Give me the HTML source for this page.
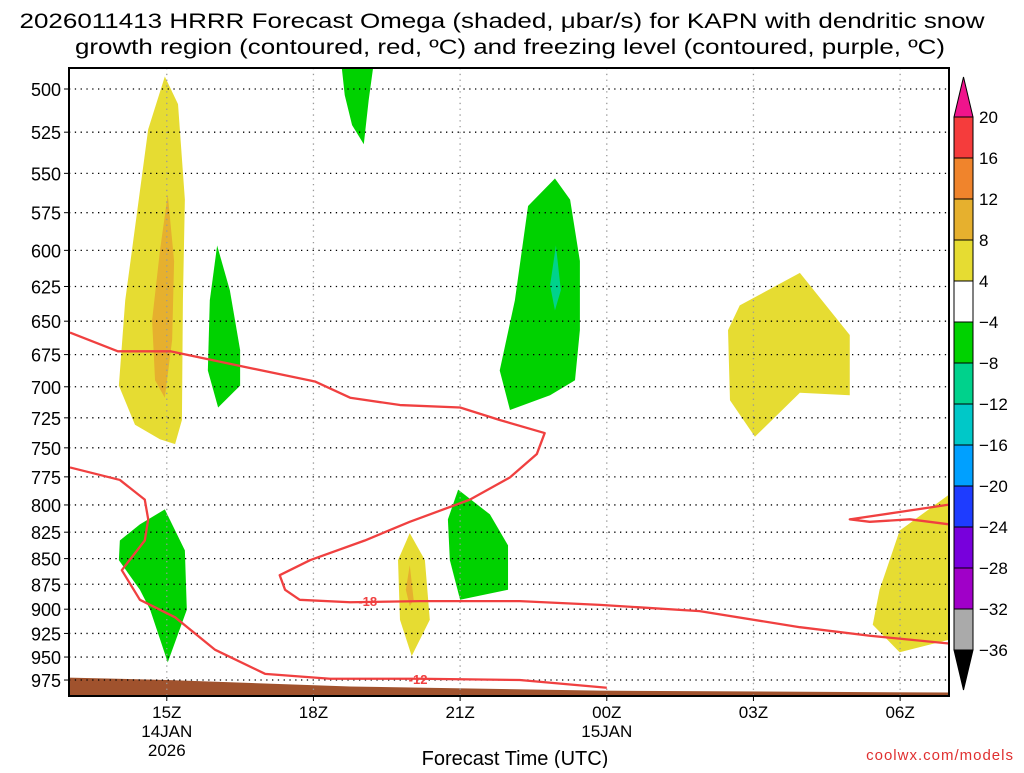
<!DOCTYPE html>
<html><head><meta charset="utf-8"><style>
body{margin:0;background:#fff;}
svg text{font-family:"Liberation Sans",sans-serif;}
</style></head><body>
<svg id="c" width="1024" height="768" xmlns="http://www.w3.org/2000/svg">
<text x="502" y="28" text-anchor="middle" font-size="21" textLength="965" lengthAdjust="spacingAndGlyphs">2026011413 HRRR Forecast Omega (shaded, μbar/s) for KAPN with dendritic snow</text>
<text x="510" y="54" text-anchor="middle" font-size="21" textLength="870" lengthAdjust="spacingAndGlyphs">growth region (contoured, red, ºC) and freezing level (contoured, purple, ºC)</text>
<g id="plot"></g>
<text x="515" y="765" text-anchor="middle" font-size="20">Forecast Time (UTC)</text>
<text x="1014" y="760" text-anchor="end" font-size="15" fill="#e03030" letter-spacing="1">coolwx.com/models</text>
</svg>
<script>
const levels=[500,525,550,575,600,625,650,675,700,725,750,775,800,825,850,875,900,925,950,975];
const xTickHours=[2,5,8,11,14,17];
const xTickLabels=[["15Z","14JAN","2026"],["18Z"],["21Z"],["00Z","15JAN"],["03Z"],["06Z"]];
const cbLevels=[20,16,12,8,4,-4,-8,-12,-16,-20,-24,-28,-32,-36];
const cbColors=["#f53c3c","#f0842c","#e6b02e","#e6dc32","#ffffff","#00d200","#00d28c","#00c8c8","#00a0ff","#1e3cff","#7800dc","#a000c8","#aaaaaa"];
const yellow1=[[1.96,493],[2.23,508.6],[2.37,566.6],[2.33,634.9],[2.31,726.8],[2.17,746.9],[1.86,742.8],[1.35,730.7],[1.02,699.1],[1.15,634.9],[1.62,523.3]];
const orange1=[[2.02,563.4],[2.15,607.3],[2.11,663.9],[1.96,708.7],[1.76,694.9],[1.70,649.3],[1.86,600.3]];
const greenA=[[3.03,596.7],[3.29,627.7],[3.5,671.5],[3.5,699.1],[3.05,716.6],[2.84,687.2],[2.88,634.9]];
const greenB=[[5.58,488.2],[6.22,488.2],[6.13,506.3],[6.03,532.2],[5.79,520.8],[5.64,503.5]];
const greenC=[[9.94,553.2],[10.25,566.6],[10.45,607.3],[10.45,656.6],[10.35,694.9],[9.84,706.7],[9.02,718.6],[8.81,687.2],[9.12,634.9],[9.39,570.7]];
const tealC=[[9.96,596.7],[10.06,627.7],[9.94,642.1],[9.84,624.2]];
const yellowD=[[14.95,615.5],[15.97,660.2],[15.97,706.7],[14.95,704.7],[14.03,740.7],[13.52,710.7],[13.48,656.6],[13.72,638.5]];
const greenE=[[1.96,804],[2.37,842.1],[2.41,900.6],[2.02,955.7],[1.66,900.6],[1.45,880.5],[1.02,851.5],[1.04,832.8],[1.45,817.7]];
const yellowF=[[6.97,825.9],[7.28,851.5],[7.38,910.8],[7.01,948.9],[6.77,910.8],[6.73,851.5]];
const orangeF=[[6.97,856.3],[7.05,890.5],[6.97,896.9],[6.89,880.5]];
const greenG=[[7.96,786.3],[8.61,808.6],[8.98,837.4],[8.98,880.5],[8.0,890.5],[7.79,851.5],[7.75,813.1]];
const yellowH=[[18,790.7],[18,931.6],[16.99,944.9],[16.44,915.9],[16.58,880.5],[16.99,823.6]];
const contour18=[[0.02,658.4],[1.0,672.5],[2.07,672.5],[3.7,685.3],[5.03,695.8],[5.75,708.7],[6.77,714.6],[8.0,716.6],[8.81,726.8],[9.73,737.6],[9.57,755.2],[9.02,775.5],[8.2,795.2],[6.97,815.4],[6.05,832.8],[4.93,851.5],[4.31,866.1],[4.42,880.5],[4.72,890.5],[5.75,893],[7.18,891.8],[9.22,891.8],[10.86,895.6],[12.9,902],[14.95,918.5],[16.38,927.4],[18,935.6]];
const contour12=[[0.02,766.8],[1.04,777.7],[1.55,795.2],[1.62,813.1],[1.55,832.8],[1.08,861.2],[1.45,890.5],[2.17,908.3],[2.99,942.3],[4.01,968.2],[5.34,973.6],[7.18,973.6],[9.22,975],[11.0,983.5]];
const contourR=[[18,799.7],[16.99,806.4],[15.97,813.1],[16.38,815.4],[17.2,813.1],[18,817.7]];
const terrain=[[0,972.3],[2,975],[5.75,982.1],[10.86,986.8],[18,988.9]];
const shaded=[[yellow1,"#e6dc32","yellow-area-15z"],[orange1,"#e6b02e","orange-area-15z"],[greenA,"#00d200","green-area-16z"],[greenB,"#00d200","green-area-19z"],[greenC,"#00d200","green-area-23z"],[tealC,"#00d28c","teal-area-23z"],[yellowD,"#e6dc32","yellow-area-04z"],[greenE,"#00d200","green-area-15z-low"],[yellowF,"#e6dc32","yellow-area-20z"],[orangeF,"#e6b02e","orange-area-20z"],[greenG,"#00d200","green-area-21z"],[yellowH,"#e6dc32","yellow-area-06z"]];

const L=69,R=949,T=68,B=696;
const X=h=>L+h*(R-L)/18;
const Y=p=>89+885*Math.log(p/500);
const NS="http://www.w3.org/2000/svg";
const g=document.getElementById('plot');
function mk(tag,at,parent){const e=document.createElementNS(NS,tag);for(const k in at)e.setAttribute(k,at[k]);(parent||g).appendChild(e);return e;}
const clip=mk('clipPath',{id:'cl'});mk('rect',{x:L,y:T,width:R-L,height:B-T},clip);
const inner=mk('g',{'clip-path':'url(#cl)'});
shaded.forEach(s=>{
  const e=mk('polygon',{points:s[0].map(q=>X(q[0])+','+Y(q[1])).join(' '),fill:s[1]},inner);
  
  
});
{let pts=terrain.map(q=>X(q[0])+','+Y(q[1]));pts.push(X(18)+','+B,X(0)+','+B);
const e=mk('polygon',{points:pts.join(' '),fill:'#a0522d'},inner);

}
levels.forEach(p=>{mk('line',{x1:L,x2:R,y1:Y(p),y2:Y(p),stroke:'#000','stroke-width':1.3,'stroke-dasharray':'1.3 4.5'},inner);});
xTickHours.forEach(h=>{mk('line',{x1:X(h),x2:X(h),y1:T,y2:B,stroke:'#999','stroke-width':1.3,'stroke-dasharray':'1.3 4.5'},inner);});
[[contour18,'contour-minus18'],[contour12,'contour-minus12'],[contourR,'contour-right']].forEach(c=>{
  const e=mk('polyline',{points:c[0].map(q=>X(q[0])+','+Y(q[1])).join(' '),fill:'none',stroke:'#f04040','stroke-width':2.3,'stroke-linejoin':'round'},inner);
  
  
});
[[6.11,891.8,'-18'],[7.14,973.6,'-12']].forEach(l=>{
  const t=mk('text',{x:X(l[0]),y:Y(l[1])+5,'text-anchor':'middle','font-size':13,'font-weight':'bold',fill:'#f04040'},inner);t.textContent=l[2];
  
  
});
mk('rect',{x:L,y:T,width:R-L,height:B-T,fill:'none',stroke:'#000','stroke-width':2});
levels.forEach(p=>{
  mk('line',{x1:L-5,x2:L,y1:Y(p),y2:Y(p),stroke:'#000','stroke-width':1});
  const t=mk('text',{x:L-8,y:Y(p)+7,'text-anchor':'end','font-size':18});t.textContent=p;
  
  
});
xTickHours.forEach((h,i)=>{
  mk('line',{x1:X(h),x2:X(h),y1:B,y2:B+5,stroke:'#000'});
  xTickLabels[i].forEach((s,j)=>{const t=mk('text',{x:X(h),y:B+22+j*19,'text-anchor':'middle','font-size':17});t.textContent=s;
  
  });
});
const cx=954,cw=19,cy0=117,step=(650-117)/13;
const tri1=mk('polygon',{points:`${cx},${cy0} ${cx+cw},${cy0} ${cx+cw/2},77`,fill:'#f0148c',stroke:'#000'});


cbColors.forEach((c,i)=>{const r=mk('rect',{x:cx,y:cy0+i*step,width:cw,height:step,fill:c,stroke:'#000','stroke-width':1});
  
  });
const tri2=mk('polygon',{points:`${cx},650 ${cx+cw},650 ${cx+cw/2},690`,fill:'#000',stroke:'#000'});


cbLevels.forEach((v,i)=>{const t=mk('text',{x:979,y:cy0+i*step+6,'font-size':17});t.textContent=v<0?'−'+(-v):String(v);
  
  });
</script>
</body></html>
